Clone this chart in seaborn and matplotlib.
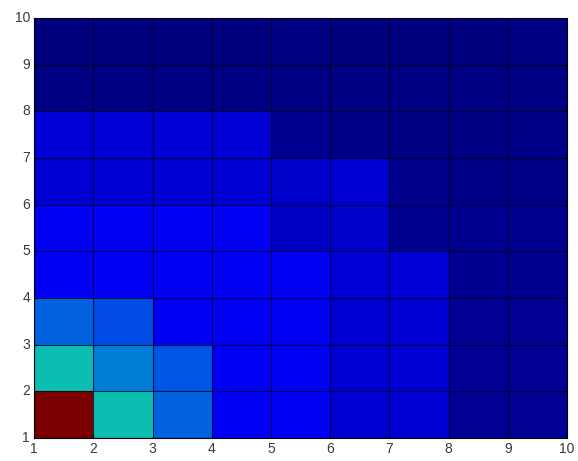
import numpy as np
import pandas as pd
import matplotlib
matplotlib.use("Agg")
import matplotlib.pyplot as plt
from matplotlib.colors import ListedColormap
import seaborn as sns

# cell values (rows bottom->top, y=1..9 ; columns x=1..9)
row1 = [1.00, 0.37, 0.235, 0.12, 0.12, 0.080, 0.080, 0.025, 0.025]
row2 = [0.37, 0.27, 0.22, 0.12, 0.12, 0.080, 0.080, 0.025, 0.025]
row3 = [0.235, 0.21, 0.12, 0.12, 0.12, 0.080, 0.080, 0.025, 0.025]
row4 = [0.12, 0.12, 0.12, 0.12, 0.12, 0.085, 0.085, 0.020, 0.022]
row5 = [0.12, 0.12, 0.12, 0.12, 0.070, 0.078, 0.020, 0.020, 0.020]
row6 = [0.080, 0.080, 0.080, 0.080, 0.078, 0.082, 0.018, 0.015, 0.015]
row7 = [0.085, 0.085, 0.085, 0.085, 0.020, 0.015, 0.010, 0.010, 0.015]
row8 = [0.008, 0.008, 0.008, 0.008, 0.010, 0.008, 0.008, 0.008, 0.010]
row9 = [0.006, 0.006, 0.006, 0.006, 0.008, 0.006, 0.006, 0.006, 0.008]
tick_labels = ["1", "2", "3", "4", "5", "6", "7", "8", "9", "10"]

data = pd.DataFrame([row1, row2, row3, row4, row5, row6, row7, row8, row9])

# slightly muted jet colormap (as in the reference rendering)
base = matplotlib.colormaps["jet"](np.linspace(0, 1, 256))[:, :3]
scale = 0.96 - 0.20 * base[:, 1:2]
cmap = ListedColormap(np.clip(base * scale, 0, 1))

sns.set_style("white")
plt.rcParams['font.family'] = ['Liberation Sans', 'DejaVu Sans']

fig = plt.figure(figsize=(5.78, 4.61), dpi=100)
ax = fig.add_axes([0.059, 0.05, 0.922, 0.911])
sns.heatmap(data, cmap=cmap, vmin=0, vmax=1, cbar=False, ax=ax,
            linewidths=0, square=False)
ax.invert_yaxis()
ax.set_xlim(0, 9)
ax.set_ylim(0, 9)
pos = np.arange(10)
ax.set_xticks(pos)
ax.set_yticks(pos)
ax.set_axisbelow(False)
ax.grid(True, color=(0, 0, 0.08), alpha=0.75, linewidth=0.8, linestyle="-")
ax.set_xticklabels(tick_labels, rotation=0, fontsize=10, color="#3a3a3a")
ax.set_yticklabels(tick_labels, rotation=0, fontsize=10, color="#3a3a3a")
ax.tick_params(direction="in", length=3, width=0.6, color="#000000", pad=3,
               bottom=True, left=True, top=True, right=True,
               labeltop=False, labelright=False)
ax.set_xlabel("")
ax.set_ylabel("")
for s in ax.spines.values():
    s.set_visible(True)
    s.set_color("#000000")
    s.set_linewidth(0.8)
fig.savefig("out.png", dpi=100, facecolor="white")
